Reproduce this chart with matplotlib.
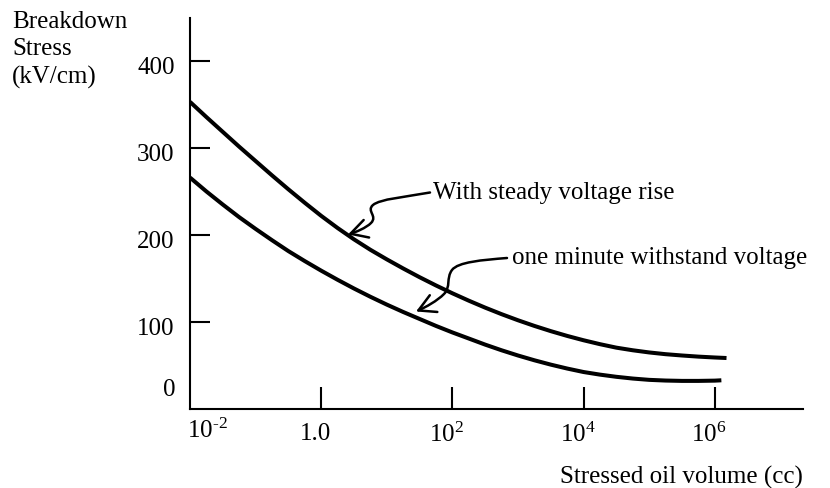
import matplotlib
matplotlib.use('Agg')
import matplotlib.pyplot as plt
import matplotlib.transforms as mtransforms
from matplotlib.path import Path
from matplotlib.patches import FancyArrowPatch

plt.rcParams['font.family'] = ['Liberation Serif', 'DejaVu Serif']
plt.rcParams['mathtext.fontset'] = 'custom'
plt.rcParams['mathtext.rm'] = 'Liberation Serif'
plt.rcParams['mathtext.it'] = 'Liberation Serif:italic'
plt.rcParams['mathtext.bf'] = 'Liberation Serif:bold'

# ---- data ----
volume = [0.01, 0.0178, 0.0316, 0.0562, 0.1, 0.178, 0.316, 0.562,
          1, 1.78, 3.16, 5.62, 10, 17.8, 31.6, 56.2,
          100, 178, 316, 562, 1000, 1778, 3162, 5623,
          1e4, 17783, 31623, 56234, 1e5, 177828, 316228, 562341, 1e6]

volume_steady = volume + [1.51e6]
stress_steady = [353, 335.5, 318.5, 301.5, 285, 268.5, 252.5, 237,
                 222, 208, 195, 183, 172, 161.5, 151.5, 142,
                 133, 124.5, 116.5, 109, 102, 95.5, 89.5, 84,
                 79, 74.5, 70.5, 67.5, 65, 63, 61.5, 60.2, 59.2, 58.6]

volume_minute = volume + [1.26e6]
stress_minute = [266, 250, 235, 220.5, 207, 194, 181.5, 170,
                 159, 148.5, 138.5, 129, 120, 111.5, 103.5, 95.5,
                 88, 81, 74, 67.5, 61.5, 56, 51, 46.5,
                 42.5, 39.5, 37, 35, 33.5, 32.7, 32.3, 32.3, 32.6, 33]

x_ticks = [1, 1e2, 1e4, 1e6]
x_tick_labels = ['1.0', r'$10^{2}$', r'$10^{4}$', r'$10^{6}$']
y_ticks = [100, 200, 300, 400]
y_tick_labels = ['100', '200', '300', '400']

FS = 18
W, H = 830, 488
fig = plt.figure(figsize=(W / 100, H / 100), dpi=100)
ax = fig.add_axes([190 / W, 79 / H, 613 / W, 391 / H])

ax.plot(volume_steady, stress_steady, color='black', lw=2.9, solid_capstyle='butt')
ax.plot(volume_minute, stress_minute, color='black', lw=2.9, solid_capstyle='butt')

ax.set_xscale('log')
ax.set_xlim(1e-2, 10 ** 7.345)
ax.set_ylim(0, 449.4)

for s in ['top', 'right']:
    ax.spines[s].set_visible(False)
for s in ['left', 'bottom']:
    ax.spines[s].set_linewidth(1.5)

ax.set_xticks(x_ticks)
ax.set_xticklabels(x_tick_labels, fontsize=FS)
ax.xaxis.set_minor_locator(matplotlib.ticker.NullLocator())
ax.set_yticks(y_ticks)
ax.set_yticklabels(y_tick_labels, fontsize=FS)
ax.tick_params(axis='x', direction='in', length=16, width=1.5, pad=10)
ax.tick_params(axis='y', direction='in', length=14.5, width=1.5, pad=11)

dx = mtransforms.ScaledTranslation(-0.06, 0, fig.dpi_scale_trans)
for lab in ax.get_xticklabels():
    lab.set_transform(lab.get_transform() + dx)
dy = mtransforms.ScaledTranslation(0, -0.05, fig.dpi_scale_trans)
for lab in ax.get_yticklabels():
    lab.set_transform(lab.get_transform() + dy)

# extra labels at the origin
ax.text(0.01, -11, r'$10^{\text{-}2}$', fontsize=FS, ha='center', va='top',
        transform=ax.transData + mtransforms.ScaledTranslation(0.17, 0, fig.dpi_scale_trans))
ax.text(-0.024, 22, '0', fontsize=FS, ha='right', va='center',
        transform=ax.get_yaxis_transform())

# axis titles
fig.text(12 / W, 1 - 11 / H, 'Breakdown\nStress\n(kV/cm)', fontsize=FS,
         ha='left', va='top', linespacing=1.32)
ax.text(1.0, -(477 - 409) / 391, 'Stressed oil volume (cc)', fontsize=FS,
        ha='right', va='center', transform=ax.transAxes)

# annotations
pix = mtransforms.Affine2D().scale(1, -1).translate(0, H)
fig.text(433 / W, 1 - 192.5 / H, 'With steady voltage rise', fontsize=FS,
         ha='left', va='center')
fig.text(512 / W, 1 - 258 / H, 'one minute withstand voltage', fontsize=FS,
         ha='left', va='center')

codes = [Path.MOVETO] + [Path.CURVE4] * 9
v1 = [(430, 192.5), (405, 197), (380, 199), (373, 205),
      (366, 211), (378, 216), (371, 223),
      (366, 228), (356, 232), (348, 234.5)]
v2 = [(507, 258), (482, 260), (458, 262), (452, 270),
      (446, 278), (451, 287), (444, 294),
      (437, 301), (426, 307), (416, 311.5)]
for v in (v1, v2):
    arr = FancyArrowPatch(path=Path(v, codes),
                          arrowstyle='->,head_length=0.6,head_width=0.33',
                          mutation_scale=20, lw=1.8, color='black',
                          shrinkA=0, shrinkB=0, transform=pix)
    fig.add_artist(arr)

fig.savefig('out.png', dpi=100)
